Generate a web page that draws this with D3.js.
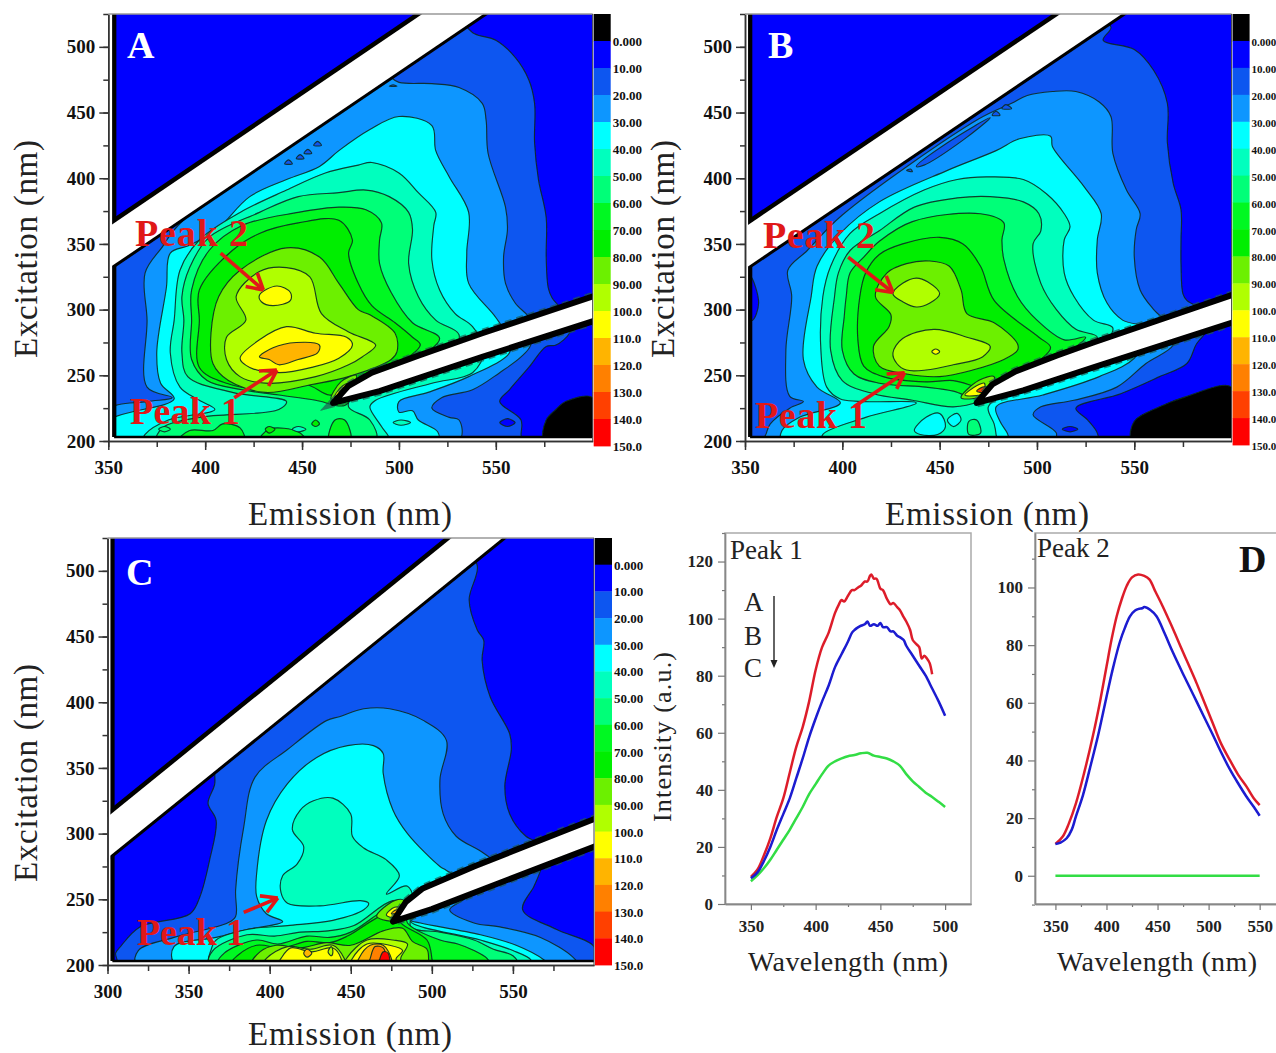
<!DOCTYPE html>
<html><head><meta charset="utf-8">
<script src="https://cdnjs.cloudflare.com/ajax/libs/d3/7.8.5/d3.min.js"></script>
<style>html,body{margin:0;padding:0;background:#fff;overflow:hidden}svg{display:block}text{font-family:"Liberation Serif",serif}</style>
</head><body><svg id="c" width="1276" height="1053"></svg>
<script>
// ---------- colour levels ----------
const levelValues=[-10,0,10,20,30,40,50,60,70,80,90,100,110,120,130,140];
const levelColors=["#000000","#0000ff","#0f56f0","#0a96ff","#00ffff","#00ffbe","#00ff78","#00f820","#00ee00","#6cf000","#b0ff00","#ffff00","#ffb400","#ff8000","#ff4000","#ff0000"];
const legendLabels=["0.000","10.00","20.00","30.00","40.00","50.00","60.00","70.00","80.00","90.00","100.0","110.0","120.0","130.0","140.0","150.0"];
// ---------- panel A contour outlines [emission, excitation] ----------
const a10=[[352,350],[525,525],[539,510],[550,505],[560,492],[567,475],[570,457],[570,427],[572,399],[576,370],[576,340],[577,317],[579,309],[589,291],[588,282],[581,273],[576,272],[567,256],[557,239],[552,230],[563,216],[563,205],[563,200],[350,200],[350,340]];
const a20=[[370,292],[369,328],[378,348],[386,364],[490,480],[500,473],[517,472],[531,469],[543,457],[545,444],[546,419],[555,378],[556,361],[554,340],[555,320],[560,305],[568,292],[568,273],[563,264],[552,252],[538,239],[522,233],[517,225],[526,218],[531,216],[531,200],[350,200],[350,224],[370,230],[383,233],[370,241]];
const a30=[[380,317],[382,343],[392,349],[406,361],[423,386],[442,399],[459,409],[469,421],[485,437],[500,447],[517,440],[519,421],[526,401],[536,374],[535,343],[536,320],[550,294],[557,277],[557,267],[536,249],[515,237],[500,230],[500,222],[507,223],[510,216],[520,207],[520,200],[350,200],[350,215],[384,232],[377,244],[375,267]];
const a40=[[384,292],[387,330],[397,353],[418,374],[442,391],[462,404],[479,410],[486,412],[500,404],[510,389],[519,374],[518,364],[517,338],[521,315],[529,297],[538,287],[544,269],[538,252],[517,244],[488,231],[485,226],[491,211],[495,200],[368,200],[369,205],[381,216],[405,224],[397,231],[387,241],[382,267]];
const a50=[[389,292],[388,310],[392,332],[402,355],[428,374],[448,386],[469,389],[483,391],[495,386],[505,374],[507,361],[505,335],[510,310],[519,292],[531,281],[526,265],[478,238],[474,226],[485,216],[488,200],[375,200],[378,210],[397,218],[438,224],[442,230],[414,237],[391,249],[388,267]];
const a60=[[393,292],[393,315],[402,345],[419,364],[448,374],[469,378],[483,376],[491,366],[490,353],[490,335],[496,313],[507,290],[521,278],[500,255],[478,238],[472,227],[457,231],[438,235],[419,239],[401,246],[393,262]];
const a70=[[397,292],[397,315],[414,345],[428,358],[448,366],[469,368],[476,353],[474,343],[479,320],[486,303],[498,290],[507,279],[511,273],[472,237],[464,235],[452,243],[435,239],[411,244],[397,256]];
const a80=[[403,282],[407,310],[418,330],[442,347],[459,340],[469,320],[479,300],[485,296],[498,282],[499,268],[496,262],[474,249],[455,243],[431,237],[412,246],[404,259]];
const a90=[[416,310],[428,329],[442,332],[454,325],[460,297],[474,283],[488,273],[481,264],[474,258],[457,249],[431,244],[418,249],[411,262],[411,279],[421,292]];
const a100p2=[[428,311],[437,318],[444,313],[444,307],[435,303],[429,306]];
const a100p1=[[418,263],[428,277],[442,287],[457,282],[473,279],[476,273],[469,263],[455,256],[438,252],[423,256]];
const a110=[[428,264],[435,271],[447,275],[459,273],[458,267],[448,262],[438,258],[433,262]];
const aBlack=[[575,200],[576,216],[581,224],[586,230],[600,233],[600,200]];
const aTip80=[[465,232],[470,245],[478,250],[474,236]];
const aTip100=[[467,234],[471,242],[476,245],[473,236]];
const aTip120=[[469,236],[472,241],[475,242],[473,237]];
const aPatch1=[[386,200],[392,208],[404,208],[409,213],[418,210],[420,200]];
const aPatch2=[[428,200],[433,209],[448,207],[452,200]];
const aPatch3=[[464,200],[467,216],[472,216],[475,200]];
const aLoop1=[[376,209],[379,211],[382,209],[379,207]],aLoop2=[[431,209],[433,211],[436,209],[433,206]],aLoop3=[[445,209],[448,211],[452,209],[448,207]],aLoop4=[[455,213],[457,216],[459,213],[457,211]];
const aFleck1=[[441,411],[443,414],[445,411]],aFleck2=[[447,415],[449,418],[451,415]],aFleck3=[[451,419],[453,422],[455,419]],aFleck4=[[456,425],[458,428],[460,425]],aFleck5=[[495,470],[497,471],[499,470]];
const aOval1=[[497,214],[501,216],[506,214],[501,212]],aOval2=[[552,214],[556,217],[560,214],[556,211]];
const ringsA=[[10,a10],[20,a20],[30,a30],[40,a40],[50,a50],[60,a60],[70,a70],[80,a80],[90,a90],[100,a100p2],[100,a100p1],[110,a110],[-10,aBlack],[60,aPatch1],[60,aPatch2],[60,aPatch3],[50,aLoop1],[70,aLoop2],[40,aLoop3],[70,aLoop4],[80,aTip80],[100,aTip100],[120,aTip120],[10,aFleck1],[10,aFleck2],[10,aFleck3],[10,aFleck4],[10,aFleck5],[40,aOval1],[0,aOval2]];
// ---------- panel B contour outlines ----------
const b10=[[534,505],[550,498],[560,482],[567,457],[567,427],[570,396],[574,376],[574,353],[574,335],[575,312],[577,307],[590,295],[588,285],[582,274],[577,259],[563,249],[543,236],[520,225],[526,216],[531,206],[531,200],[350,200],[350,340],[352,350],[525,525],[538,515]];
const b20=[[374,310],[372,330],[382,345],[400,372],[470,445],[487,457],[495,463],[508,466],[520,466],[532,458],[538,447],[539,419],[546,391],[553,373],[551,361],[550,340],[553,315],[560,300],[570,285],[570,273],[556,259],[541,241],[519,231],[502,226],[498,220],[510,206],[508,200],[360,200],[361,206],[363,213],[373,225],[380,230],[373,234],[371,269]];
const b30=[[384,310],[387,333],[399,358],[419,382],[454,406],[479,421],[491,430],[507,432],[508,424],[524,394],[533,373],[531,353],[531,328],[536,305],[544,292],[558,285],[550,263],[532,249],[503,235],[479,226],[481,215],[485,205],[485,200],[369,200],[369,208],[378,218],[399,229],[387,241],[380,262]];
const b40=[[390,310],[394,333],[404,358],[419,373],[442,391],[459,399],[474,401],[493,399],[505,388],[514,373],[517,363],[514,353],[514,328],[519,310],[529,292],[539,286],[530,268],[490,240],[475,226],[478,213],[479,205],[479,200],[390,200],[390,205],[412,218],[438,229],[399,232],[392,241],[389,269]];
const b50=[[396,310],[398,328],[404,345],[419,360],[437,378],[459,385],[476,386],[493,382],[501,373],[502,360],[498,350],[502,320],[510,300],[520,285],[531,279],[500,250],[478,238],[470,230],[457,226],[436,231],[416,236],[400,246],[394,269]];
const b60=[[402,310],[404,328],[411,340],[419,352],[436,367],[471,373],[483,366],[482,353],[483,338],[490,310],[500,292],[514,277],[525,279],[500,252],[478,238],[470,232],[457,238],[443,241],[419,244],[406,251],[400,269],[401,295]];
const b70=[[409,310],[412,328],[419,342],[431,350],[450,355],[462,350],[471,333],[478,307],[501,279],[507,271],[490,250],[475,240],[457,246],[443,245],[421,249],[411,257],[408,277]];
const b80=[[417,310],[423,328],[433,335],[445,337],[455,333],[461,315],[464,297],[478,290],[490,274],[490,269],[483,262],[467,254],[450,249],[433,251],[419,257],[416,272],[424,287],[425,296]];
const b90p2=[[426,312],[431,320],[438,324],[444,321],[450,312],[445,305],[438,302],[431,306]];
const b90p1=[[426,267],[431,278],[447,285],[464,279],[476,272],[472,264],[457,258],[443,254],[433,254],[428,259]];
const b100=[[446,268],[448,270],[450,268],[448,266]];
const bBlack=[[549,200],[550,215],[563,226],[577,234],[600,241],[600,200]];
const bLeft=[[353,325],[357,305],[354,292],[352,292],[352,325]];
const bOval=[[513,209],[517,211],[521,209],[517,207]];
const bSliver=[[438,409],[454,427],[476,446],[462,429],[442,410]];
const bFleck1=[[477,448],[479,451],[481,448]],bFleck2=[[482,453],[484,456],[487,453]],bFleck3=[[433,406],[435,407],[436,405]];
const bHole1=[[437,208],[443,218],[450,221],[453,211],[449,205],[440,205]],bHole2=[[454,216],[459,221],[461,216],[457,211]];
const bPatch=[[465,215],[469,216],[471,206],[465,205]];
const bTip80=[[461,233],[470,246],[478,249],[474,235]];
const bTip100=[[463,235],[469,242],[473,244],[472,236]];
const bTip130=[[469,238],[472,241],[474,241],[473,237]];
const ringsB=[[10,b10],[20,b20],[30,b30],[40,b40],[50,b50],[60,b60],[70,b70],[80,b80],[90,b90p2],[90,b90p1],[100,b100],[-10,bBlack],[0,bLeft],[0,bOval],[10,bSliver],[10,bFleck1],[10,bFleck2],[10,bFleck3],[30,bHole1],[30,bHole2],[50,bPatch],[80,bTip80],[100,bTip100],[130,bTip130]];
// ---------- panel C contour outlines ----------
const c10=[[366,337],[368,355],[518,520],[528,504],[523,478],[528,455],[532,447],[531,432],[536,404],[548,376],[549,364],[545,336],[548,315],[558,298],[570,290],[567,272],[563,260],[556,242],[577,227],[600,214],[600,200],[305,200],[306,203],[305,209],[308,214],[320,229],[351,239],[357,252],[363,280],[367,310],[362,323]];
const c20=[[379,257],[384,305],[391,343],[411,364],[435,386],[443,389],[458,395],[474,395],[495,386],[509,371],[505,341],[507,315],[515,298],[532,285],[545,270],[520,250],[511,242],[526,232],[542,229],[567,221],[587,206],[590,200],[318,200],[319,211],[341,221],[374,232],[379,237]];
const c30=[[392,270],[398,310],[411,338],[429,358],[448,367],[464,367],[470,361],[470,346],[476,318],[485,300],[505,275],[509,272],[520,262],[490,240],[487,234],[493,232],[530,223],[552,215],[569,204],[572,200],[342,200],[341,214],[367,221],[386,227],[408,233],[398,239],[392,252]];
const c40=[[414,303],[419,318],[427,325],[439,327],[450,315],[451,298],[458,289],[472,280],[480,268],[472,254],[485,260],[490,238],[487,233],[530,219],[550,211],[561,204],[561,200],[363,200],[364,212],[367,219],[386,227],[411,230],[439,234],[458,242],[461,247],[456,249],[431,245],[411,247],[407,255],[408,268],[417,277],[421,290]];
const c50=[[363,200],[365,211],[386,223],[403,222],[419,225],[436,226],[452,230],[476,249],[488,245],[487,229],[505,225],[526,219],[538,212],[550,207],[553,200]];
const c60=[[368,200],[372,209],[392,219],[405,216],[423,222],[437,221],[450,225],[472,242],[484,243],[485,232],[505,219],[516,216],[526,211],[534,205],[536,200]];
const c70=[[376,200],[380,207],[392,215],[408,213],[423,218],[437,217],[448,222],[470,238],[480,238],[481,232],[497,219],[500,205],[500,200]];
const c80=[[389,200],[394,210],[404,215],[419,213],[435,217],[450,215],[470,226],[482,228],[488,218],[497,212],[498,204],[498,200]];
const c90p1=[[396,200],[398,205],[411,214],[425,212],[439,215],[446,205],[447,200]];
const c90p2=[[446,200],[448,206],[460,219],[476,219],[485,216],[481,206],[480,200]];
const c100p1=[[405,200],[407,205],[413,213],[426,210],[439,213],[444,205],[444,200]];
const c100p2=[[450,200],[451,205],[460,216],[474,215],[482,211],[478,205],[478,200]];
const c110=[[454,200],[455,205],[462,215],[470,215],[475,205],[475,200]];
const c120=[[461,200],[462,205],[465,214],[470,213],[472,205],[472,200]];
const c140=[[467,200],[468,205],[470,210],[473,209],[474,205],[474,200]];
const cDiamond=[[421,209],[423,212],[426,209],[423,206]];
const cOval=[[436,210],[438,214],[439,210],[438,207]];
const cTip80=[[466,237],[477,249],[483,249],[480,234]];
const cTip100=[[472,238],[477,244],[482,243],[479,236]];
const cTip110=[[475,239],[478,242],[481,240]];
const ringsC=[[10,c10],[20,c20],[30,c30],[40,c40],[50,c50],[60,c60],[70,c70],[80,c80],[90,c90p1],[90,c90p2],[100,c100p1],[100,c100p2],[110,c110],[120,c120],[140,c140],[110,cDiamond],[90,cOval],[80,cTip80],[100,cTip100],[110,cTip110]];
// ---------- scatter bands (second-order band edges) ----------
const band2A=[[466,229],[474,242],[486,252],[510,265],[543,282],[602,311],[602,292],[543,264],[490,238]];
const band2B=[[469,229],[477,243],[489,253],[510,265],[529,275],[602,312],[602,291],[529,256],[493,238.5]];
const band2C=[[476,233],[484,248],[494,258],[526,275],[602,312],[602,291],[526,255],[500,242.5]];
const bandEm=[290,570],bandUpper=15,bandLower=-20;
// ---------- annotation arrows [emission, excitation] ----------
const arrowsA=[[[408,343],[430,315]],[[415,233],[437,254]]];
const arrowsB=[[[403,340],[426,313]],[[406,226],[432,252]]];
const arrowsC=[[[384,240],[405,251]]];
// ---------- panel D spectra ----------
const p1RedX=[350,355,360,365,370,375,380,385,390,395,400,405,410,415,418,420,422,425,428,430,433,435,438,440,442,443,445,447,450,452,455,458,460,463,465,468,470,473,475,478,480,482,484,486,488,490];
const p1RedY=[9.5,12,17,23,30.5,37,46,55,62,71,82,90,95,102,105,106.5,106,108,110,110,111,111.5,113,113,115,115.5,114,114,110.5,110,107,105,105.5,104,103,100.5,99,96,92.5,91,90,86,87,86,84.5,80.5];
const p1BlueX=[350,355,360,365,370,375,380,385,390,395,400,405,410,415,420,425,428,430,433,435,438,440,442,445,448,450,452,455,458,460,463,465,468,470,475,480,485,490,495,500];
const p1BlueY=[9,11,15,20,26,31.5,37,44,51,58.5,65,71,76.5,83,87.5,92,95,96,97,97.5,98,99,97.5,98,97.5,98.5,97,97,95.5,95.5,94,93.5,92.5,90.5,87,83.5,80,75.5,71,66];
const p1GreenX=[350,355,360,365,370,375,380,385,390,395,400,405,410,415,420,425,430,435,440,445,450,455,460,465,470,475,480,485,490,495,500];
const p1GreenY=[8,10,12.5,15.5,19,22.5,26,30,34,38.5,42,45.5,48.5,50,51,51.8,52.2,52.8,53,52,51.5,51,50,48.5,45.5,43,41,39,37.5,35.8,34];
const p2RedX=[350,357,363,370,378,387,394,400,405,410,415,420,425,431,437,442,448,455,463,472,480,488,496,504,512,521,529,537,544,550];
const p2RedY=[11,13.5,18,25,35.5,49,61,72.5,82,90,96,100.7,103.5,104.5,104,102.8,98.5,93.5,87.3,80,73.5,67,60,53,46,40,35,31,27,24.5];
const p2BlueX=[350,355,361,366,370,377,384,392,400,406,413,418,423,428,432,435,437,443,449,457,465,475,485,495,504,512,521,529,537,544,550];
const p2BlueY=[11,11.5,13,16,20.5,28,37.6,49,62,71.5,81,86,90,92,92.6,92.8,93.2,92.2,90,84,77.5,70,62.8,55.5,49,43,36.8,32,27.5,24,20.8];
const p2GreenX=[350,550],p2GreenY=[0,0];

const svg=d3.select("#c");
const defs=svg.append("defs");
defs.append("filter").attr("id","soft").attr("x","-2%").attr("y","-2%").attr("width","104%").attr("height","104%")
  .append("feGaussianBlur").attr("stdDeviation",0.55);
const colorOf=d3.scaleOrdinal(levelValues,levelColors);

function mapPanel(o){
  const x=d3.scaleLinear([o.emMin,600],[o.x0,o.x1]);
  const y=d3.scaleLinear([200,525],[o.yb,o.yt]);
  const g=svg.append("g");
  const closed=d3.line(d=>x(d[0]),d=>y(d[1])).curve(d3.curveCatmullRomClosed.alpha(0.5));
  const straight=d3.line(d=>x(d[0]),d=>y(d[1])).curve(d3.curveLinearClosed);
  const id="clip"+o.name;
  defs.append("clipPath").attr("id",id).append("rect")
    .attr("x",x(o.dataLeft)).attr("y",o.yt).attr("width",x(600)-x(o.dataLeft)).attr("height",y(203)-o.yt);
  defs.append("clipPath").attr("id",id+"f").append("rect")
    .attr("x",x(o.emMin)).attr("y",o.yt).attr("width",x(600)-x(o.emMin)).attr("height",o.yb-o.yt);
  const m=g.append("g").attr("filter","url(#soft)");
  const inner=m.append("g").attr("clip-path","url(#"+id+")");
  inner.append("rect").attr("x",x(o.dataLeft)).attr("y",o.yt).attr("width",x(600)-x(o.dataLeft)).attr("height",o.yb-o.yt).attr("fill",colorOf(0));
  inner.selectAll("path.r").data(o.rings).join("path").attr("class","r")
    .attr("d",d=>closed(d[1])).attr("fill",d=>colorOf(d[0]))
    .attr("stroke","#0a2a22").attr("stroke-width",1.15).attr("stroke-opacity",.9).attr("stroke-linejoin","round");
  const over=m.append("g").attr("clip-path","url(#"+id+"f)");
  over.append("line").attr("x1",x(o.dataLeft)).attr("x2",x(o.dataLeft)).attr("y1",o.yt).attr("y2",y(203)).attr("stroke","#000").attr("stroke-width",4.5);
  over.append("line").attr("x1",x(o.dataLeft)).attr("x2",x(600)).attr("y1",y(203)).attr("y2",y(203)).attr("stroke","#000").attr("stroke-width",2.6);
  const e0=bandEm[0],e1=bandEm[1];
  over.append("path").attr("d",straight([[e0,e0+bandUpper],[e1,e1+bandUpper],[e1,e1+bandLower],[e0,e0+bandLower]])).attr("fill","#fff");
  over.append("line").attr("x1",x(e0)).attr("y1",y(e0+bandUpper)).attr("x2",x(e1)).attr("y2",y(e1+bandUpper)).attr("stroke","#000").attr("stroke-width",4.5);
  over.append("line").attr("x1",x(e0)).attr("y1",y(e0+bandLower)).attr("x2",x(e1)).attr("y2",y(e1+bandLower)).attr("stroke","#000").attr("stroke-width",3);
  over.append("rect").attr("x",x(o.emMin)).attr("y",o.yt).attr("width",x(o.dataLeft)-x(o.emMin)-2).attr("height",o.yb-o.yt).attr("fill","#fff");
  over.append("path").attr("d",straight(o.band2)).attr("fill","none").attr("stroke","#1d5a50").attr("stroke-width",9).attr("stroke-dasharray","7 5").attr("stroke-opacity",.7);
  over.append("path").attr("d",straight(o.band2)).attr("fill","#fff").attr("stroke","#000").attr("stroke-width",6).attr("stroke-linejoin","round");
  const fmt=d3.format("d");
  const ax=(sel,axis)=>{sel.call(axis);sel.selectAll("path").attr("stroke","#333").attr("stroke-width",1.5);sel.selectAll("line").attr("stroke","#333").attr("stroke-width",1.5);
    sel.selectAll("text").attr("font-size",19).attr("font-weight","bold").attr("font-family","Liberation Serif").attr("fill","#111");};
  const xt=d3.range(o.emMin,600,50),xm=d3.range(o.emMin,600,25);
  const yt=d3.range(200,501,50),ym=d3.range(200,526,25);
  ax(g.append("g").attr("transform",`translate(0,${o.yb})`),d3.axisBottom(x).tickValues(xm).tickFormat("").tickSize(6).tickSizeOuter(0));
  ax(g.append("g").attr("transform",`translate(0,${o.yb})`),d3.axisBottom(x).tickValues(xt).tickFormat(fmt).tickSize(9).tickPadding(11).tickSizeOuter(0));
  ax(g.append("g").attr("transform",`translate(${o.x0},0)`),d3.axisLeft(y).tickValues(ym).tickFormat("").tickSize(5).tickSizeOuter(0));
  ax(g.append("g").attr("transform",`translate(${o.x0},0)`),d3.axisLeft(y).tickValues(yt).tickFormat(fmt).tickSize(9).tickPadding(4).tickSizeOuter(0));
  g.append("line").attr("x1",o.x0).attr("x2",o.x1).attr("y1",o.yt).attr("y2",o.yt).attr("stroke","#999").attr("stroke-width",1.5);
  g.append("line").attr("x1",o.x1).attr("x2",o.x1).attr("y1",o.yt).attr("y2",o.yb).attr("stroke","#444").attr("stroke-width",1);
  const cb=d3.scaleLinear([-10,150],[o.yt,o.cbBottom]);
  g.append("g").attr("filter","url(#soft)").selectAll("rect").data(levelValues).join("rect")
    .attr("x",o.x1+1).attr("width",17).attr("y",d=>cb(d)).attr("height",d=>cb(d+10)-cb(d)+.4).attr("fill",d=>colorOf(d));
  g.append("g").selectAll("text").data(legendLabels).join("text")
    .attr("x",o.x1+20).attr("y",(d,i)=>cb(i*10)+5).attr("font-size",o.legendSize).attr("font-weight","bold").attr("fill","#111").text(d=>d);
  g.selectAll("g.ar").data(o.arrows).join("g").attr("class","ar").each(function(d){
    const a=[x(d[0][0]),y(d[0][1])],b=[x(d[1][0]),y(d[1][1])];
    const ang=Math.atan2(b[1]-a[1],b[0]-a[0]),s=d3.select(this);
    s.append("line").attr("x1",a[0]).attr("y1",a[1]).attr("x2",b[0]).attr("y2",b[1]).attr("stroke","#e01818").attr("stroke-width",3.6);
    [2.6,-2.6].forEach(k=>s.append("line").attr("x1",b[0]).attr("y1",b[1]).attr("x2",b[0]-18*Math.cos(ang+k/5)).attr("y2",b[1]-18*Math.sin(ang+k/5)).attr("stroke","#e01818").attr("stroke-width",3.6));
  });
  g.append("text").attr("x",o.letter[0]).attr("y",o.letter[1]).attr("font-size",38).attr("font-weight","bold").attr("fill","#fff").text(o.name);
  o.peaks.forEach(p=>g.append("text").attr("x",p[1]).attr("y",p[2]).attr("font-size",38).attr("font-weight","bold").attr("fill","#e01818").attr("textLength",p[3]).text(p[0]));
  g.append("text").attr("x",o.xTitle[0]).attr("y",o.xTitle[1]).attr("text-anchor","middle").attr("font-size",33).attr("fill","#222").attr("textLength",204).text("Emission (nm)");
  g.append("text").attr("transform",`translate(${o.yTitle[0]},${o.yTitle[1]}) rotate(-90)`).attr("text-anchor","middle").attr("font-size",33).attr("fill","#222").attr("textLength",218).text("Excitation (nm)");
}
mapPanel({name:"A",emMin:350,dataLeft:353,x0:108.3,x1:592.7,yb:441,yt:14,cbBottom:446,legendSize:13,rings:ringsA,band2:band2A,arrows:arrowsA,letter:[127,58],
  peaks:[["Peak 2",135,246,113],["Peak 1",130,424,110]],xTitle:[350,525],yTitle:[37,249]});
mapPanel({name:"B",emMin:350,dataLeft:352.6,x0:745,x1:1231.6,yb:441,yt:14,cbBottom:445,legendSize:11,rings:ringsB,band2:band2B,arrows:arrowsB,letter:[768,58],
  peaks:[["Peak 2",763,248,112],["Peak 1",755,428,112]],xTitle:[987,525],yTitle:[674,249]});
mapPanel({name:"C",emMin:300,dataLeft:303,x0:107.5,x1:594,yb:965,yt:538,cbBottom:965,legendSize:13,rings:ringsC,band2:band2C,arrows:arrowsC,letter:[126,585],
  peaks:[["Peak 1",137,945,108]],xTitle:[350,1045],yTitle:[37,773]});

function specPanel(o){
  const x=d3.scaleLinear(o.xd,[o.l,o.r]),y=d3.scaleLinear(o.yd,[o.b,o.t]);
  const g=svg.append("g");
  g.append("path").attr("d",`M${o.l},${o.b}V${o.t}H${o.r}`+(o.closeRight?`V${o.b}H${o.l}`:`M${o.l},${o.b}H${o.r}`)).attr("fill","none").attr("stroke","#aaa").attr("stroke-width",1.5);
  const style=s=>{s.selectAll("path").attr("stroke","#888").attr("stroke-width",1.4);s.selectAll("line").attr("stroke","#777").attr("stroke-width",1.2);
    s.selectAll("text").attr("font-size",17).attr("font-weight","bold").attr("font-family","Liberation Serif").attr("fill","#222");};
  const tx=g.append("g").attr("transform",`translate(0,${o.b})`);
  tx.call(d3.axisBottom(x).tickValues(o.xMinor).tickFormat("").tickSize(3).tickSizeOuter(0)); style(tx);
  const tx2=g.append("g").attr("transform",`translate(0,${o.b})`);
  tx2.call(d3.axisBottom(x).tickValues(o.xMajor).tickFormat(d3.format("d")).tickSize(6).tickPadding(10).tickSizeOuter(0)); style(tx2);
  const ty=g.append("g").attr("transform",`translate(${o.l},0)`);
  ty.call(d3.axisLeft(y).tickValues(o.yMinor).tickFormat("").tickSize(3).tickSizeOuter(0)); style(ty);
  const ty2=g.append("g").attr("transform",`translate(${o.l},0)`);
  ty2.call(d3.axisLeft(y).tickValues(o.yMajor).tickFormat(d3.format("d")).tickSize(7).tickPadding(5).tickSizeOuter(0)); style(ty2);
  const ln=d3.line().x(d=>x(d[0])).y(d=>y(d[1])).curve(d3.curveCatmullRom.alpha(0.5));
  const s=g.append("g").attr("filter","url(#soft)");
  o.series.forEach(k=>s.append("path").attr("d",ln(k[0].map((v,i)=>[v,k[1][i]]))).attr("fill","none").attr("stroke",k[2]).attr("stroke-width",2.5));
  g.append("text").attr("x",o.title[0]).attr("y",o.title[1]).attr("font-size",27).attr("fill","#222").text(o.title[2]);
  g.append("text").attr("x",o.wl).attr("y",971).attr("text-anchor","middle").attr("font-size",28).attr("fill","#222").attr("textLength",200).text("Wavelength (nm)");
}
const seqR="#dd1f2a",seqB="#1a1ad0",seqG="#33dd44";
specPanel({l:725,r:971,t:533,b:904,xd:[330,520],yd:[0,130],xMajor:[350,400,450,500],xMinor:[375,425,475],yMajor:[0,20,40,60,80,100,120],yMinor:[10,30,50,70,90,110,130],
  closeRight:true,title:[730,559,"Peak 1"],wl:848,
  series:[[p1GreenX,p1GreenY,seqG],[p1RedX,p1RedY,seqR],[p1BlueX,p1BlueY,seqB]]});
specPanel({l:1035,r:1276,t:533,b:904,xd:[330,566],yd:[-9.8,118.9],xMajor:[350,400,450,500,550],xMinor:[375,425,475,525],yMajor:[0,20,40,60,80,100],yMinor:[-10,10,30,50,70,90,110],
  closeRight:false,title:[1037,557,"Peak 2"],wl:1157,
  series:[[p2GreenX,p2GreenY,seqG],[p2RedX,p2RedY,seqR],[p2BlueX,p2BlueY,seqB]]});
svg.append("text").attr("transform","translate(671,737) rotate(-90)").attr("text-anchor","middle").attr("font-size",26).attr("fill","#222").attr("textLength",170).text("Intensity (a.u.)");
svg.append("text").attr("x",1239).attr("y",572).attr("font-size",38).attr("font-weight","bold").attr("fill","#111").text("D");
[["A",611],["B",645],["C",677]].forEach(d=>svg.append("text").attr("x",744).attr("y",d[1]).attr("font-size",27).attr("fill","#222").text(d[0]));
svg.append("line").attr("x1",774).attr("x2",774).attr("y1",596).attr("y2",664).attr("stroke","#222").attr("stroke-width",1.4);
svg.append("path").attr("d","M770.5,660L774,668L777.5,660Z").attr("fill","#222");
</script></body></html>
